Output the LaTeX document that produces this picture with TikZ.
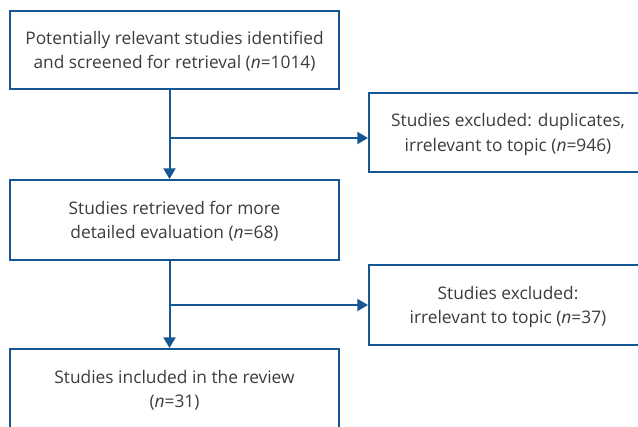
\documentclass[tikz,border=0pt]{standalone}
\usepackage{fontspec}
\setmainfont{Open Sans}
\usetikzlibrary{arrows.meta}

\definecolor{flowblue}{RGB}{22,86,148}
\definecolor{flowtext}{RGB}{60,60,60}

\begin{document}
\begin{tikzpicture}[x=0.75pt,y=-0.75pt,
    box/.style={draw=flowblue,line width=1.5pt,rectangle,inner sep=0pt,
      align=center,text=flowtext,text depth=0pt,
      font=\fontsize{13}{18.5}\selectfont},
    arr/.style={draw=flowblue,line width=1.5pt,
      -{Triangle[width=9pt,length=8pt]}}]
      \useasboundingbox (0,0) rectangle (638,426);
      \begin{scope}
      \clip (0,0) rectangle (638,426);
      \node[box,minimum width=329*0.75pt,minimum height=78*0.75pt] (found) at (174.5,50)
        {Potentially relevant studies identified\\and screened for retrieval (\textit{n}=1014)};
      \node[box,minimum width=329*0.75pt,minimum height=80*0.75pt] (retr) at (174.5,220)
        {Studies retrieved for more\\detailed evaluation (\textit{n}=68)};
      \node[box,minimum width=329*0.75pt,minimum height=80*0.75pt] (incl) at (174.5,389)
        {Studies included in the review\\(\textit{n}=31)};
      \node[box,minimum width=278*0.75pt,minimum height=79*0.75pt] (excl1) at (508,132.5)
        {Studies excluded: duplicates,\\irrelevant to topic (\textit{n}=946)};
      \node[box,minimum width=278*0.75pt,minimum height=80*0.75pt] (excl2) at (508,305)
        {Studies excluded:\\irrelevant to topic (\textit{n}=37)};

      \coordinate (j1) at (169.5,138);
      \coordinate (j2) at (169.5,305);

      \draw[arr] (found.south -| j1) -- (retr.north -| j1);
      \draw[arr] (j1) -- (excl1.west |- j1);
      \draw[arr] (retr.south -| j2) -- (incl.north -| j2);
      \draw[arr] (j2) -- (excl2.west |- j2);
      \end{scope}
    \end{tikzpicture}
\end{document}
